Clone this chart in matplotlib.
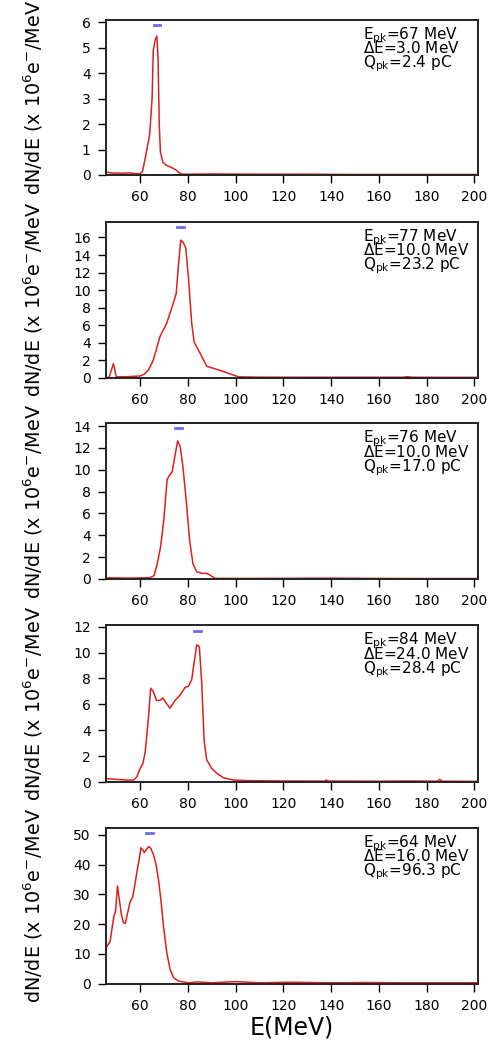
import numpy as np
import matplotlib
matplotlib.use("Agg")
import matplotlib.pyplot as plt

# energy axis (MeV) and spectra (x 10^6 e-/MeV)
E1 = [45.7, 48, 52, 56, 58, 60, 61, 62, 63, 64, 65, 65.5, 66.3, 67, 67.5, 68,
      68.5, 69.5, 71, 73, 75, 76.5, 78, 90, 110, 130, 150, 170, 190, 201]
S1 = [0.12, 0.08, 0.07, 0.08, 0.05, 0.05, 0.15, 0.6, 1.1, 1.6, 3.0, 4.9, 5.3, 5.45, 4.6, 2.0,
      0.9, 0.5, 0.38, 0.3, 0.2, 0.07, 0.03, 0.04, 0.03, 0.03, 0.02, 0.02, 0.02, 0.02]

E2 = [45.7, 47, 48.8, 50, 55, 60, 61.6, 63.5, 65.5, 68.3, 71.1, 73.9, 75.1, 76.0, 77.0,
      78.1, 79.1, 80.2, 81.6, 82.6, 83.7, 85.1, 87.9, 90.7, 94.9, 99.1, 101.2, 110, 130,
      150, 170, 172, 174, 190, 201]
S2 = [0.0, 0.05, 1.6, 0.1, 0.12, 0.2, 0.38, 0.88, 2.0, 4.7, 6.2, 8.5, 9.6, 12.7, 15.7,
      15.4, 14.8, 11.5, 6.2, 4.1, 3.5, 2.8, 1.3, 1.07, 0.7, 0.3, 0.1, 0.06, 0.05,
      0.05, 0.05, 0.12, 0.05, 0.04, 0.04]

E3 = [45.7, 50, 55, 60, 64, 65.8, 67.2, 68.6, 69.9, 71.3, 72.0, 73.4, 74.3, 75.7, 76.8,
      77.9, 79.3, 80.7, 82.1, 83.7, 85.8, 87.9, 89.2, 91.3, 100, 120, 140, 160, 180, 201]
S3 = [0.1, 0.1, 0.08, 0.1, 0.12, 0.3, 1.4, 3.0, 5.4, 9.1, 9.4, 9.8, 10.9, 12.65, 12.1,
      10.3, 7.2, 3.6, 1.4, 0.67, 0.52, 0.52, 0.37, 0.06, 0.05, 0.06, 0.08, 0.05, 0.04, 0.04]

E4 = [45.7, 50.2, 54.4, 57.2, 58.6, 60, 61.1, 62.1, 63.5, 64.4, 65.5, 66.9, 68.3, 69.5,
      70.9, 72.5, 74.6, 76.7, 78.8, 80.2, 81.6, 82.6, 83.7, 84.8, 85.8, 86.8, 87.9, 90,
      92.1, 94.9, 99.1, 106.1, 120, 137, 138, 139, 160, 173, 184.5, 185.5, 186.5, 201]
S4 = [0.26, 0.2, 0.15, 0.15, 0.4, 1.05, 1.4, 2.3, 5.0, 7.24, 7.0, 6.3, 6.3, 6.5,
      6.1, 5.7, 6.3, 6.7, 7.3, 7.4, 7.9, 9.2, 10.6, 10.45, 7.6, 3.2, 1.7, 1.05,
      0.67, 0.33, 0.15, 0.1, 0.08, 0.07, 0.15, 0.07, 0.06, 0.08, 0.06, 0.2, 0.06, 0.05]

E5 = [45.5, 46.0, 47.4, 48.5, 49.1, 49.7, 50.5, 51.3, 52.2, 53.0, 53.8, 54.7, 55.8, 56.9,
      57.9, 58.9, 59.7, 60.3, 61.1, 61.7, 62.5, 63.6, 64.5, 65.6, 66.7, 67.7, 68.7, 69.8,
      71.2, 72.6, 74.0, 76.1, 78.2, 80.3, 84, 90, 100, 110, 122, 140, 155, 170, 201]
S5 = [11.9, 12.4, 14.1, 20.0, 23.0, 24.2, 32.8, 28.1, 23.0, 20.5, 20.2, 23.6, 27.5, 29.2,
      33.7, 38.7, 42.1, 45.6, 44.9, 44.0, 44.9, 46.0, 45.4, 43.2, 39.8, 34.8, 28.1, 19.1,
      10.2, 4.6, 2.0, 0.9, 0.56, 0.3, 0.6, 0.3, 0.7, 0.3, 0.5, 0.3, 0.4, 0.3, 0.3]

energies = [E1, E2, E3, E4, E5]
spectra = [S1, S2, S3, S4, S5]

E_pk = [67, 77, 76, 84, 64]
dE = [3.0, 10.0, 10.0, 24.0, 16.0]
Q_pk = [2.4, 23.2, 17.0, 28.4, 96.3]
mark_y = [5.88, 17.2, 13.8, 11.67, 50.5]   # height of the blue bar over each peak

y_top = [6.08, 17.8, 14.25, 12.13, 52.35]
y_ticks = [np.arange(0, 7, 1), np.arange(0, 17, 2), np.arange(0, 15, 2),
           np.arange(0, 13, 2), np.arange(0, 51, 10)]
x_ticks = np.arange(60, 201, 20)

plt.rcParams.update({'font.family': 'DejaVu Sans', 'mathtext.default': 'regular'})

W, H = 494, 1042
fig = plt.figure(figsize=(W / 100, H / 100), dpi=100)

left, right = 106, 478
tops = [20, 221.7, 423.3, 625, 827.7]
bottoms = [175, 377.7, 579, 782, 983.7]

for i in range(5):
    ax = fig.add_axes([left / W, 1 - bottoms[i] / H, (right - left) / W,
                       (bottoms[i] - tops[i]) / H])
    ax.plot(energies[i], spectra[i], color='#dd1f1f', lw=1.1)
    ax.plot([E_pk[i] - 1.4, E_pk[i] + 1.4], [mark_y[i], mark_y[i]],
            color='#6a6af0', lw=2)
    ax.set_xlim(45.7, 201.5)
    ax.set_ylim(0, y_top[i])
    ax.set_xticks(x_ticks)
    ax.set_yticks(y_ticks[i])
    ax.tick_params(direction='out', length=6, width=1, labelsize=10, pad=5,
                   top=False, right=False)
    for s in ax.spines.values():
        s.set_linewidth(1.4)
        s.set_color('#222222')
    ax.set_ylabel(r"dN/dE (x 10$^6$e$^{-}$/MeV", fontsize=13.8)
    ax.yaxis.set_label_coords(-0.165, 0.5)
    lines = [r"E$_{pk}$=%d MeV" % E_pk[i],
             r"$\Delta$E=%.1f MeV" % dE[i],
             r"Q$_{pk}$=%.1f pC" % Q_pk[i]]
    for k, txt in enumerate(lines):
        ax.text(0.69, 0.876 - k * 0.092, txt, transform=ax.transAxes,
                fontsize=11, ha='left', va='baseline')
    if i == 4:
        ax.set_xlabel("E(MeV)", fontsize=17, labelpad=2)

fig.savefig("out.png", dpi=100)
